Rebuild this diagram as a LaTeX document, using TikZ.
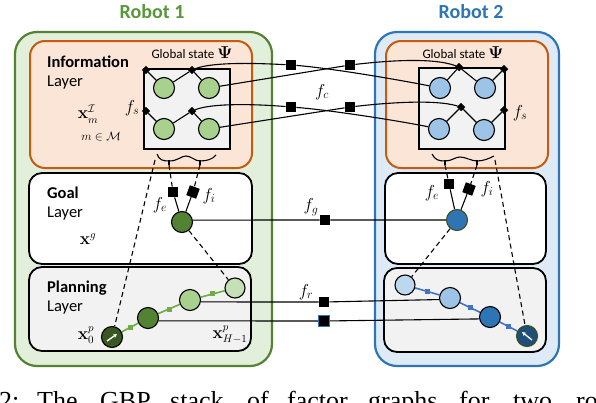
\documentclass[tikz,border=0pt]{standalone}
\usepackage[no-math]{fontspec}
\setmainfont{Carlito}
\newfontfamily\capfont{Liberation Serif}
\usepackage{amsmath,amssymb,bm}
\usetikzlibrary{arrows.meta,calc}
\definecolor{gbg}{RGB}{226,239,218}
\definecolor{gbd}{RGB}{84,130,53}
\definecolor{gtitle}{RGB}{90,150,58}
\definecolor{bbg}{RGB}{222,235,247}
\definecolor{bbd}{RGB}{46,117,182}
\definecolor{obg}{RGB}{251,229,214}
\definecolor{obd}{RGB}{197,90,17}
\definecolor{lgrey}{RGB}{242,242,242}
\definecolor{glight}{RGB}{169,209,142}
\definecolor{gpale}{RGB}{197,224,180}
\definecolor{gmid}{RGB}{84,130,53}
\definecolor{gdark}{RGB}{56,87,35}
\definecolor{gline}{RGB}{112,173,71}
\definecolor{blight}{RGB}{157,195,230}
\definecolor{bpale}{RGB}{189,215,238}
\definecolor{bmid}{RGB}{46,117,182}
\definecolor{bdark}{RGB}{31,78,121}
\definecolor{bline}{RGB}{68,114,196}
\definecolor{olive}{RGB}{60,80,30}
\pgfdeclarelayer{boxes}
\pgfdeclarelayer{wires}
\pgfsetlayers{boxes,wires,main}
\tikzset{
  x=1pt,y=-1pt,
  circ/.style={circle,draw=black,line width=1.1pt,minimum size=21pt,inner sep=0pt},
  fac/.style={rectangle,fill=black,minimum size=10.5pt,inner sep=0pt},
  dia/.style={rectangle,fill=black,minimum size=6pt,inner sep=0pt,rotate=45},
  msq/.style={rectangle,minimum size=5pt,inner sep=0pt},
  wire/.style={line width=1.1pt},
  dwire/.style={line width=1.1pt,dash pattern=on 5pt off 3.5pt},
  title/.style={font=\fontsize{20}{24}\selectfont\bfseries},
  head/.style={font=\fontsize{16.5}{20}\selectfont\bfseries,anchor=west,inner sep=0pt},
  sub/.style={font=\fontsize{16.5}{20}\selectfont,anchor=west,inner sep=0pt},
  gs/.style={font=\fontsize{13}{15}\selectfont,inner sep=0pt},
  ml/.style={font=\fontsize{17}{20}\selectfont,inner sep=0pt},
  mv/.style={font=\fontsize{16}{19}\selectfont,inner sep=0pt},
  captext/.style={font=\capfont\fontsize{26}{30}\selectfont,inner sep=0pt,anchor=base west},
}
\newcommand{\bigpsi}{{\fontsize{16}{18}\selectfont$\boldsymbol{\Psi}$}}
\begin{document}
\begin{tikzpicture}
\useasboundingbox (0,0) rectangle (596,402);
\begin{pgfonlayer}{boxes}
  % Robot 1 frame and layers
  \draw[fill=gbg,draw=gbd,line width=2.2pt,rounded corners=22pt] (15,32) rectangle (272,366);
  \draw[fill=obg,draw=obd,line width=2pt,rounded corners=15pt] (30,41) rectangle (252,168);
  \draw[fill=white,draw=black,line width=1.8pt,rounded corners=13pt] (29,173) rectangle (252,264);
  \draw[fill=lgrey,draw=black,line width=1.8pt,rounded corners=13pt] (29,267) rectangle (251,351);
  \draw[fill=lgrey,draw=black,line width=1.2pt] (144,69) rectangle (230,149);
  % Robot 2 frame and layers
  \draw[fill=bbg,draw=bbd,line width=2.2pt,rounded corners=22pt] (375,32) rectangle (559,366);
  \draw[fill=obg,draw=obd,line width=2pt,rounded corners=15pt] (386,41) rectangle (548,168);
  \draw[fill=white,draw=black,line width=1.8pt,rounded corners=13pt] (385,173) rectangle (546,264);
  \draw[fill=lgrey,draw=black,line width=1.8pt,rounded corners=13pt] (384,268) rectangle (546,352);
  \draw[fill=lgrey,draw=black,line width=1.2pt] (419,68) rectangle (505,149);
\end{pgfonlayer}

% titles and texts
\node[title,text=gtitle] (t1) at (152,12) {Robot 1};
\node[title,text=bbd] (t2) at (471,12) {Robot 2};
\node[head] (h1) at (47,62) {Information};
\node[sub] (h1b) at (47,83) {Layer};
\node[head] (h2) at (47,193) {Goal};
\node[sub] (h2b) at (47,214) {Layer};
\node[head] (h3) at (47,288) {Planning};
\node[sub] (h3b) at (47,308) {Layer};
\node[gs] (gs1) at (192,53) {Global state \bigpsi};
\node[gs] (gs2) at (463,53) {Global state \bigpsi};
\node[mv] (xi) at (88,114) {$\mathbf{x}^{\mathcal{I}}_m$};
\node[font=\fontsize{12.5}{15}\selectfont,inner sep=0pt] (mm) at (101,137) {$m\in\mathcal{M}$};
\node[mv] (xg) at (88,239) {$\mathbf{x}^{g}$};
\node[mv] (xp0) at (86,335) {$\mathbf{x}^{p}_{0}$};
\node[mv] (xph) at (230,335) {$\mathbf{x}^{p}_{H-1}$};

% Robot 1 information graph
\node[dia] (d11) at (146,70) {};
\node[dia] (d12) at (192,70) {};
\node[dia] (d21) at (146,111) {};
\node[dia] (d22) at (192,111) {};
\node[circ,fill=glight] (c11) at (164,88) {};
\node[circ,fill=glight] (c12) at (209,88) {};
\node[circ,fill=glight] (c21) at (164,129) {};
\node[circ,fill=glight] (c22) at (209,129) {};
% Robot 2 information graph
\node[dia] (e11) at (459,67) {};
\node[dia] (e12) at (504,69) {};
\node[dia] (e21) at (461,107) {};
\node[dia] (e22) at (504,110) {};
\node[circ,fill=blight] (b11) at (440,88) {};
\node[circ,fill=blight] (b12) at (485,88) {};
\node[circ,fill=blight] (b21) at (439,129) {};
\node[circ,fill=blight] (b22) at (484,130) {};
% inter-robot information factors
\node[fac] (fA) at (291,65) {};
\node[fac] (fB) at (350,65) {};
\node[fac] (fC) at (291,107) {};
\node[fac] (fD) at (350,107) {};
\node[ml] (lfs1) at (132,108) {$f_s$};
\node[ml] (lfs2) at (520,113) {$f_s$};
\node[ml] (lfc) at (322,92) {$f_c$};

% Goal layer
\node[circ,fill=gmid] (g1) at (182,222) {};
\node[circ,fill=bmid,draw=olive] (g2) at (457,220) {};
\node[fac] (r1fe) at (173,192) {};
\node[fac,rotate=-20] (r1fi) at (193,192) {};
\node[fac] (r2fe) at (449,184) {};
\node[fac,rotate=-20] (r2fi) at (469,189) {};
\node[fac] (fg) at (325,220) {};
\node[ml] (lfe1) at (160,205) {$f_e$};
\node[ml] (lfi1) at (209,196) {$f_i$};
\node[ml] (lfe2) at (432,193) {$f_e$};
\node[ml] (lfi2) at (487,189) {$f_i$};
\node[ml] (lfg) at (311,207) {$f_g$};

% Planning layer
\node[circ,fill=gdark] (p0) at (112,337) {};
\node[circ,fill=gmid] (p1) at (148,318) {};
\node[circ,fill=glight] (p2) at (190,300) {};
\node[circ,fill=gpale,minimum size=20pt] (p3) at (235,288) {};
\node[circ,fill=bpale,minimum size=20pt] (q0) at (405,285) {};
\node[circ,fill=blight] (q1) at (450,298) {};
\node[circ,fill=bmid] (q2) at (490,317) {};
\node[circ,fill=bdark,draw=olive] (q3) at (527,336) {};
\node[fac] (fr1) at (324,302) {};
\node[fac,draw=bmid,line width=0.8pt] (fr2) at (324,321) {};
\node[ml] (lfr) at (306,292) {$f_r$};

% braces
\coordinate (k1a) at (169,165);
\coordinate (k1b) at (200,165);
\coordinate (s1) at (155,160);
\coordinate (k2a) at (445,165);
\coordinate (k2b) at (477,165);
\coordinate (s2) at (495,160);

% arrows inside start/end states
\draw[white,line width=1.4pt,-{Stealth[length=4pt,width=4pt]}] ($(p0)+(-5,4)$) -- ($(p0)+(5,-3)$);
\draw[white,line width=1.4pt,-{Stealth[length=4pt,width=4pt]}] ($(q3)+(5,4)$) -- ($(q3)+(-5,-4)$);

% caption (cropped by the image edge, as in the reference)
\foreach \xx/\ww [count=\i] in {-1/2:,37/The,100/GBP,170/stack,247/of,287/factor,368/graphs,459/for,513/two,576/robots}
  \node[captext] (cw\i) at (\xx,409) {\ww};

\begin{pgfonlayer}{wires}
  % Robot 1 internal
  \draw[wire] (d11) -- (c11) -- (d12) -- (c12);
  \draw[wire] (d21) -- (c21) -- (d22) -- (c22);
  % Robot 2 internal
  \draw[wire] (b11) -- (e11) -- (b12) -- (e12);
  \draw[wire] (b21) -- (e21) -- (b22) -- (e22);
  % inter-robot curves
  \draw[wire] (d12) .. controls (212,62) and (255,63) .. (fA) .. controls (330,68) and (400,80) .. (b11);
  \draw[wire] (c12) -- (fB) .. controls (385,61) and (432,57) .. (e11);
  \draw[wire] (d22) .. controls (212,103) and (255,104) .. (fC) .. controls (330,110) and (400,121) .. (b21);
  \draw[wire] (c22) -- (fD) .. controls (385,103) and (434,99) .. (e21);
  % braces
  \draw[wire] (157,154) .. controls (159,160) and (163,161) .. (169,161)
     .. controls (178,161) and (181,156) .. (186,156)
     .. controls (191,156) and (195,161) .. (200,161)
     .. controls (207,161) and (213,159) .. (216,155);
  \draw[wire] (169,160) -- (k1a);
  \draw[wire] (200,160) -- (k1b);
  \draw[wire] (432,154) .. controls (435,160) and (439,161) .. (445,161)
     .. controls (452,161) and (455,157) .. (460,157)
     .. controls (466,157) and (471,161) .. (477,161)
     .. controls (484,161) and (490,158) .. (494,156);
  \draw[wire] (445,160) -- (k2a);
  \draw[wire] (477,160) -- (k2b);
  % goal connections
  \draw[dwire] (k1a) -- (r1fe);
  \draw[dwire] (k1b) -- (r1fi);
  \draw[wire] (r1fe) -- (g1);
  \draw[wire] (r1fi) -- (g1);
  \draw[dwire] (k2a) -- (r2fe);
  \draw[dwire] (k2b) -- (r2fi);
  \draw[wire] (r2fe) -- (g2);
  \draw[wire] (r2fi) -- (g2);
  \draw[wire] (g1.10) -- (fg) -- (g2.west);
  % long dashed links
  \draw[dwire] (s1) -- (p0);
  \draw[dwire] (g1) -- (p3);
  \draw[dwire] (s2) -- (q3);
  \draw[dwire] (g2) -- (q0);
  % planning chains
  \draw[gline,line width=1.6pt] (p0) -- node[msq,fill=gline] (m1) {} (p1) -- node[msq,fill=gline] (m2) {} (p2) -- node[msq,fill=gline] (m3) {} (p3);
  \draw[bline,line width=1.6pt] (q0) -- node[msq,fill=bline] (n1) {} (q1) -- node[msq,fill=bline] (n2) {} (q2) -- node[msq,fill=bline] (n3) {} (q3);
  % inter-robot planning
  \draw[wire] (p2.-10) -- (fr1) -- (q1.188);
  \draw[wire] (p1.-15) -- (fr2) -- (q2.190);
\end{pgfonlayer}
\end{tikzpicture}
\end{document}
